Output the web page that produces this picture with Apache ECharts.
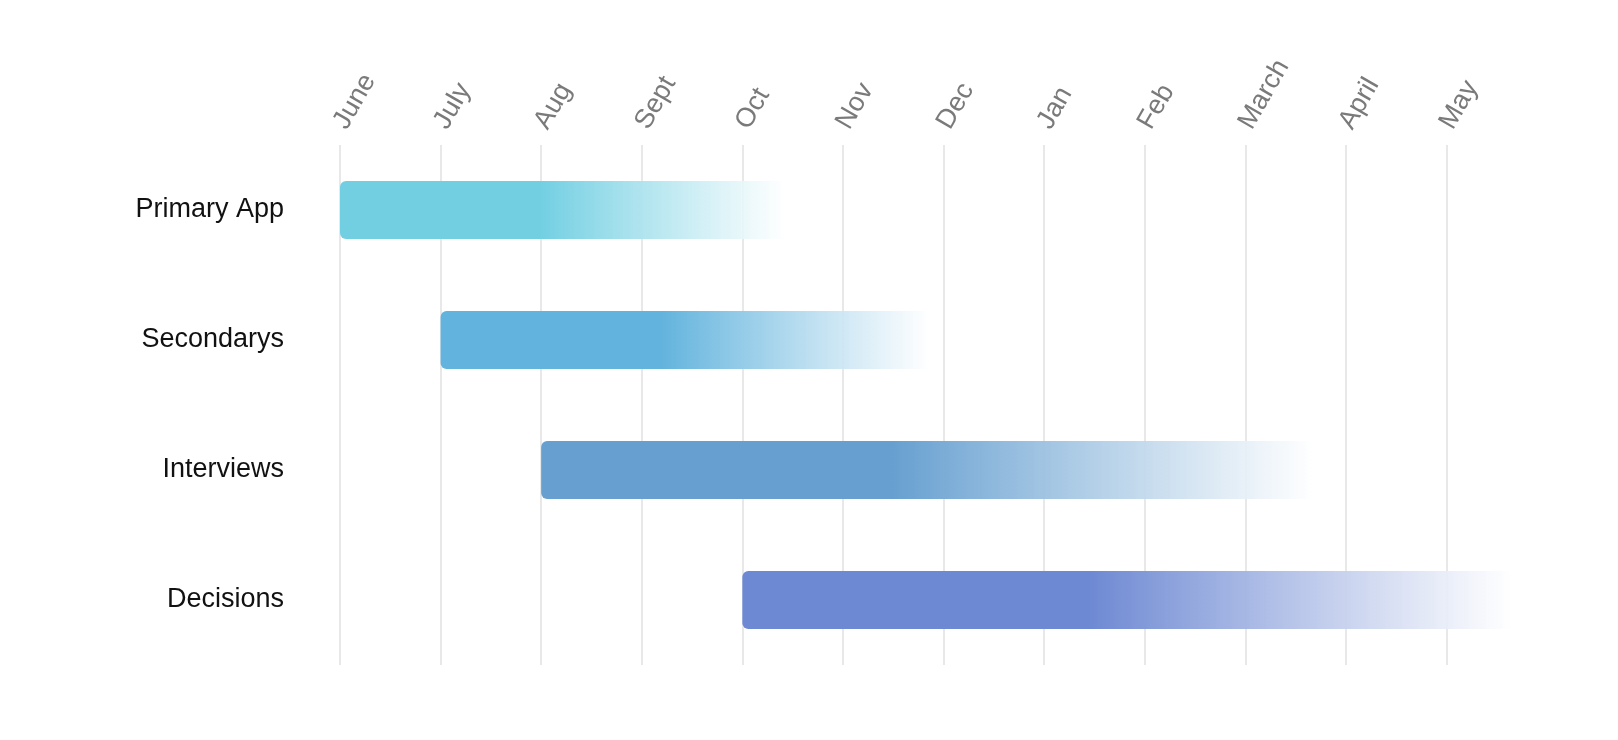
<!DOCTYPE html>
<html>
<head>
<meta charset="utf-8">
<script src="https://cdn.jsdelivr.net/npm/echarts@6/dist/echarts.min.js"></script>
<style>html,body{margin:0;background:#fff}#main{width:1618px;height:740px}</style>
</head>
<body>
<div id="main"></div>
<script>
var months = ['June', 'July', 'Aug', 'Sept', 'Oct', 'Nov', 'Dec', 'Jan', 'Feb', 'March', 'April', 'May'];
var tasks = ['Primary App', 'Secondarys', 'Interviews', 'Decisions'];
var starts = [0, 1, 2, 4];
var ends = [4.42, 5.86, 9.69, 11.65];
var colors = ['#72cfe2', '#62b3dd', '#669fd0', '#6e89d3'];

var myChart = echarts.init(document.getElementById('main'));

function fade(c) {
    return new echarts.graphic.LinearGradient(0, 0, 1, 0, [
        { offset: 0, color: c },
        { offset: 0.45, color: c },
        { offset: 1, color: 'rgba(255,255,255,0.9)' }
    ]);
}

var bars = [];
for (var i = 0; i < tasks.length; i++) {
    bars.push({
        value: ends[i] - starts[i],
        itemStyle: { color: fade(colors[i]), borderRadius: [6, 0, 0, 6] }
    });
}

var option = {
    animation: false,
    grid: { left: 340, right: 71, top: 145, bottom: 75 },
    xAxis: {
        type: 'value',
        position: 'top',
        min: 0,
        max: 12,
        interval: 1,
        axisLine: { show: false },
        axisTick: { show: false },
        splitLine: { show: true, showMaxLine: false, lineStyle: { color: '#e0e0e0', width: 1.5 } },
        axisLabel: {
            rotate: -60,
            fontSize: 27,
            color: '#7a7a7a',
            fontFamily: 'Liberation Sans',
            margin: 18,
            showMaxLabel: false,
            formatter: function (v) { return months[v] || ''; }
        }
    },
    yAxis: {
        type: 'category',
        data: tasks,
        inverse: true,
        axisLine: { show: false },
        axisTick: { show: false },
        axisLabel: { fontSize: 27, color: '#111', fontFamily: 'Liberation Sans', margin: 56 }
    },
    series: [
        {
            type: 'bar',
            stack: 'g',
            data: starts,
            itemStyle: { color: 'transparent' },
            barWidth: 58,
            silent: true
        },
        {
            type: 'bar',
            stack: 'g',
            data: bars,
            barWidth: 58
        }
    ]
};

myChart.setOption(option);
</script>
</body>
</html>
